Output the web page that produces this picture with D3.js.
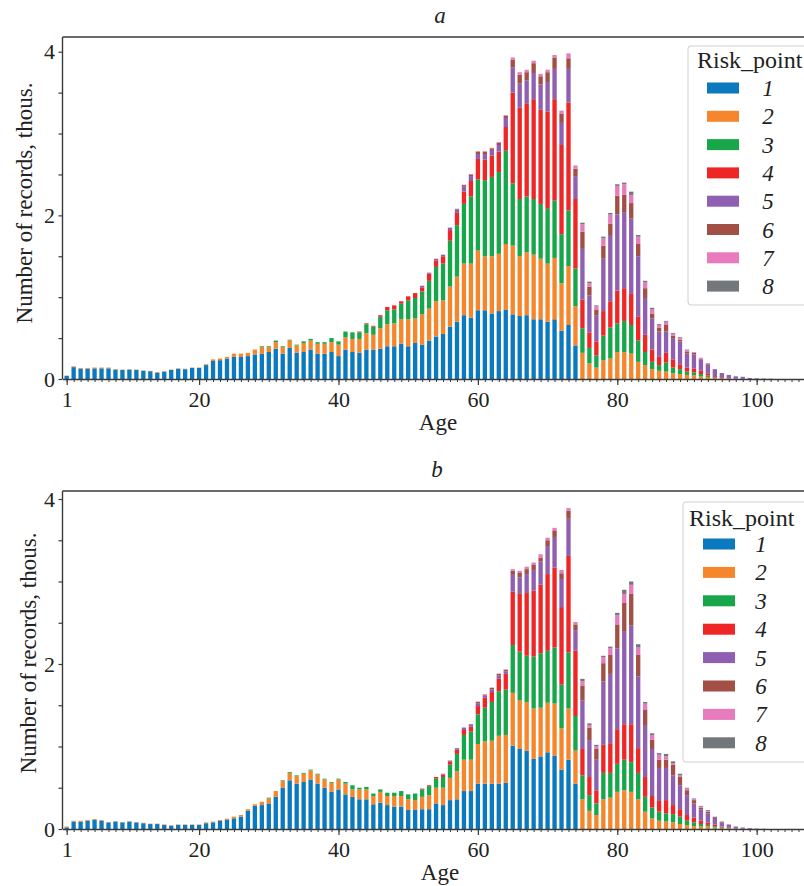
<!DOCTYPE html>
<html><head><meta charset="utf-8">
<script src="https://cdn.jsdelivr.net/npm/d3@7"></script>
<style>
body{margin:0;background:#fff}
svg{display:block}
svg text{font-family:"Liberation Serif","Times New Roman",serif !important;fill:#222}
</style>
</head><body>
<svg id="chart" width="804" height="886"></svg>
<script>
// ---------- data ----------
const ages = d3.range(1, 107);
const riskPoints = ["1","2","3","4","5","6","7","8"];
const colors = ["#0b79bf","#f5862b","#17a74a","#ee2626","#8f5fb1","#a24f45","#e87bbd","#72777c"];
const xTickValues = [1,20,40,60,80,100];
const yTickLabels = [0,2,4];

// Panel a (thousands of records per age, ages 1..106)
const a1 = [0.04,0.145,0.125,0.125,0.13,0.13,0.13,0.115,0.11,0.115,
 0.11,0.10,0.095,0.075,0.09,0.11,0.125,0.12,0.135,0.135,
 0.17,0.22,0.23,0.25,0.27,0.27,0.28,0.30,0.31,0.33,
 0.37,0.31,0.38,0.32,0.33,0.36,0.31,0.31,0.33,0.28,
 0.36,0.33,0.32,0.36,0.36,0.37,0.40,0.40,0.43,0.40,
 0.44,0.42,0.47,0.52,0.55,0.64,0.70,0.78,0.75,0.84,
 0.84,0.80,0.83,0.85,0.79,0.77,0.78,0.73,0.73,0.70,
 0.73,0.59,0.66,0.41];
const a2 = [0,0.01,0.01,0.01,0.01,0.01,0.01,0.005,0.005,0.005,
 0.005,0.005,0.005,0.01,0.005,0.005,0.005,0.005,0.005,0.005,
 0.01,0.02,0.02,0.02,0.04,0.04,0.04,0.06,0.08,0.06,
 0.08,0.08,0.09,0.09,0.11,0.11,0.12,0.12,0.12,0.14,
 0.15,0.16,0.17,0.20,0.18,0.25,0.27,0.28,0.30,0.33,
 0.30,0.37,0.39,0.43,0.41,0.49,0.55,0.63,0.66,0.73,
 0.66,0.70,0.70,0.80,0.84,0.73,0.77,0.79,0.74,0.71,
 0.75,0.58,0.72,0.48,0.32,0.19,0.14,0.23,0.25,0.33,
 0.33,0.31,0.21,0.17,0.12,0.10,0.09,0.07,0.06,0.05,
 0.045,0.03,0.025,0.01,0.008,0.005,0.003,0.002];
const a3 = [0,0,0,0,0,0,0,0,0,0,
 0,0,0,0,0,0,0,0,0,0,
 0,0,0,0,0,0,0,0,0.01,0.01,
 0.02,0.01,0.01,0.01,0.02,0.02,0.02,0.02,0.05,0.04,
 0.07,0.08,0.08,0.11,0.10,0.14,0.17,0.17,0.19,0.23,
 0.25,0.28,0.34,0.42,0.45,0.56,0.63,0.73,0.82,0.87,
 0.93,0.97,1.00,1.14,0.76,0.70,0.68,0.68,0.67,0.67,
 0.70,0.60,0.68,0.46,0.30,0.19,0.15,0.30,0.38,0.35,
 0.38,0.35,0.26,0.16,0.09,0.07,0.11,0.07,0.06,0.04,
 0.035,0.03,0.02,0.01,0.005];
const a4 = [0,0,0,0,0,0,0,0,0,0,
 0,0,0,0,0,0,0,0,0,0,
 0,0,0,0,0,0,0,0,0,0,
 0,0,0,0,0,0,0,0,0,0,
 0,0,0.01,0.01,0.01,0.02,0.04,0.05,0.03,0.05,
 0.06,0.05,0.09,0.08,0.09,0.13,0.15,0.15,0.19,0.25,
 0.25,0.26,0.25,0.29,1.11,1.12,1.14,1.22,1.15,1.19,
 1.24,1.09,1.32,0.85,0.35,0.19,0.17,0.30,0.32,0.40,
 0.40,0.38,0.29,0.21,0.15,0.10,0.12,0.10,0.06,0.05,
 0.05,0.04,0.025,0.015,0.01,0.005];
const a5 = [0,0,0,0,0,0,0,0,0,0,
 0,0,0,0,0,0,0,0,0,0,
 0,0,0,0,0,0,0,0,0,0,
 0,0,0,0,0,0,0,0,0,0,
 0,0,0,0,0,0,0,0,0,0,
 0,0.02,0.01,0.02,0.02,0.03,0.04,0.06,0.06,0.06,
 0.07,0.07,0.08,0.11,0.31,0.29,0.28,0.32,0.31,0.36,
 0.37,0.27,0.41,0.28,0.62,0.45,0.32,0.64,0.81,0.93,
 0.93,0.92,0.74,0.45,0.38,0.31,0.26,0.26,0.28,0.17,
 0.17,0.14,0.11,0.085,0.05,0.04,0.03,0.025,0.012,0.008,
 0.005,0.003];
const a6 = [0,0,0,0,0,0,0,0,0,0,
 0,0,0,0,0,0,0,0,0,0,
 0,0,0,0,0,0,0,0,0,0,
 0,0,0,0,0,0,0,0,0,0,
 0,0,0,0,0,0,0,0,0,0,
 0,0,0,0,0,0,0.01,0.02,0.02,0.03,
 0.03,0.02,0.03,0.03,0.09,0.11,0.10,0.12,0.10,0.12,
 0.14,0.11,0.13,0.09,0.21,0.11,0.07,0.16,0.14,0.23,
 0.21,0.19,0.15,0.12,0.06,0.05,0.08,0.03,0.02,0.02,
 0.02,0.01,0.01];
const a7 = [0,0,0,0,0,0,0,0,0,0,
 0,0,0,0,0,0,0,0,0,0,
 0,0,0,0,0,0,0,0,0,0,
 0,0,0,0,0,0,0,0,0,0,
 0,0,0,0,0,0,0,0,0,0,
 0,0,0,0,0,0,0,0.005,0.005,0.005,
 0.005,0.005,0.005,0.005,0.03,0.03,0.03,0.03,0.03,0.03,
 0.03,0.04,0.06,0.04,0.09,0.04,0.04,0.09,0.11,0.12,
 0.13,0.10,0.09,0.07,0.05,0.03,0.04,0.02,0.02,0.02,
 0.01,0.01];
const a8 = [0,0,0,0,0,0,0,0,0,0,
 0,0,0,0,0,0,0,0,0,0,
 0,0,0,0,0,0,0,0,0,0,
 0,0,0,0,0,0,0,0,0,0,
 0,0,0,0,0,0,0,0,0,0,
 0,0,0,0,0,0,0,0,0,0,
 0,0,0,0,0,0,0,0,0,0,
 0,0,0,0,0.02,0.02,0.01,0.02,0.02,0.02,
 0.02,0.04,0.02,0.02,0.02,0.01,0.01,0.01,0.01,0.01];

// Panel b
const b1 = [0.02,0.09,0.09,0.10,0.11,0.10,0.08,0.09,0.08,0.09,
 0.08,0.07,0.06,0.06,0.05,0.04,0.05,0.05,0.05,0.05,
 0.07,0.08,0.10,0.11,0.13,0.15,0.22,0.28,0.29,0.31,
 0.39,0.50,0.59,0.55,0.57,0.60,0.55,0.50,0.45,0.48,
 0.42,0.39,0.36,0.36,0.30,0.32,0.29,0.27,0.27,0.23,
 0.23,0.24,0.24,0.31,0.29,0.35,0.36,0.46,0.46,0.55,
 0.55,0.55,0.55,0.56,1.01,0.97,0.95,0.85,0.88,0.93,
 0.89,0.72,0.84,0.55];
const b2 = [0.01,0.01,0.01,0.01,0.01,0.01,0.005,0.005,0.005,0.005,
 0.005,0.005,0.005,0.005,0.005,0.005,0.005,0.005,0.005,0.005,
 0.01,0.01,0.01,0.015,0.02,0.02,0.02,0.02,0.04,0.06,
 0.07,0.08,0.09,0.09,0.10,0.11,0.11,0.10,0.11,0.12,
 0.13,0.09,0.12,0.12,0.10,0.13,0.11,0.13,0.13,0.13,
 0.12,0.15,0.17,0.19,0.21,0.27,0.34,0.38,0.38,0.48,
 0.51,0.52,0.58,0.58,0.64,0.59,0.59,0.61,0.59,0.60,
 0.63,0.50,0.62,0.40,0.36,0.22,0.17,0.36,0.38,0.45,
 0.47,0.45,0.36,0.21,0.13,0.10,0.09,0.08,0.06,0.045,
 0.035,0.03,0.03,0.02,0.01,0.005,0.003,0.002];
const b3 = [0,0,0,0,0,0,0,0,0,0,
 0,0,0,0,0,0,0,0,0,0,
 0,0,0,0,0,0,0,0,0,0.01,
 0,0.01,0.01,0.01,0.01,0.01,0.01,0.01,0.01,0.01,
 0.02,0.05,0.02,0.03,0.03,0.03,0.04,0.04,0.06,0.06,
 0.08,0.09,0.11,0.11,0.13,0.16,0.21,0.30,0.34,0.36,
 0.41,0.47,0.54,0.55,0.58,0.59,0.56,0.63,0.66,0.63,
 0.68,0.53,0.68,0.42,0.29,0.19,0.14,0.32,0.30,0.34,
 0.37,0.36,0.32,0.18,0.13,0.11,0.10,0.10,0.09,0.055,
 0.045,0.03,0.02,0.015,0.01,0.005,0.003,0.002];
const b4 = [0,0,0,0,0,0,0,0,0,0,
 0,0,0,0,0,0,0,0,0,0,
 0,0,0,0,0,0,0,0,0,0,
 0,0,0,0,0,0,0,0,0,0,
 0,0,0,0,0,0,0,0,0,0,
 0,0.01,0.01,0.02,0.03,0.04,0.05,0.06,0.06,0.10,
 0.12,0.12,0.15,0.19,0.65,0.70,0.76,0.80,0.83,0.93,
 0.97,0.94,1.17,0.79,0.32,0.22,0.16,0.34,0.36,0.42,
 0.43,0.46,0.30,0.24,0.14,0.13,0.16,0.11,0.09,0.07,
 0.06,0.04,0.03,0.02,0.01,0.01,0.004];
const b5 = [0,0,0,0,0,0,0,0,0,0,
 0,0,0,0,0,0,0,0,0,0,
 0,0,0,0,0,0,0,0,0,0,
 0,0,0,0,0,0,0,0,0,0,
 0,0,0,0,0,0,0,0,0,0,
 0,0,0,0,0.01,0.01,0.02,0.03,0.03,0.03,
 0.03,0.03,0.04,0.03,0.20,0.20,0.23,0.25,0.28,0.34,
 0.37,0.34,0.45,0.25,0.59,0.44,0.37,0.77,0.84,0.98,
 1.12,1.20,0.87,0.62,0.57,0.40,0.39,0.36,0.29,0.24,
 0.17,0.14,0.11,0.08,0.05,0.035,0.02,0.014,0.01,0.005,
 0.003];
const b6 = [0,0,0,0,0,0,0,0,0,0,
 0,0,0,0,0,0,0,0,0,0,
 0,0,0,0,0,0,0,0,0,0,
 0,0,0,0,0,0,0,0,0,0,
 0,0,0,0,0,0,0,0,0,0,
 0,0,0,0,0,0,0,0,0,0.02,
 0.01,0.02,0.02,0.02,0.05,0.06,0.06,0.06,0.05,0.07,
 0.08,0.07,0.10,0.07,0.18,0.16,0.13,0.22,0.23,0.29,
 0.35,0.38,0.26,0.20,0.11,0.10,0.10,0.13,0.10,0.06,
 0.04,0.02,0.02,0.01,0.01];
const b7 = [0,0,0,0,0,0,0,0,0,0,
 0,0,0,0,0,0,0,0,0,0,
 0,0,0,0,0,0,0,0,0,0,
 0,0,0,0,0,0,0,0,0,0,
 0,0,0,0,0,0,0,0,0,0,
 0,0,0,0,0,0,0,0,0,0.005,
 0.005,0.005,0.005,0.005,0.02,0.02,0.03,0.03,0.04,0.03,
 0.03,0.04,0.03,0.03,0.05,0.03,0.03,0.07,0.08,0.11,
 0.11,0.11,0.09,0.07,0.06,0.06,0.04,0.02,0.02,0.02,
 0.01,0.01,0.01,0.005];
const b8 = [0,0,0,0,0,0,0,0,0,0,
 0,0,0,0,0,0,0,0,0,0,
 0,0,0,0,0,0,0,0,0,0,
 0,0,0,0,0,0,0,0,0,0,
 0,0,0,0,0,0,0,0,0,0,
 0,0,0,0,0,0,0,0,0,0,
 0,0,0,0,0,0,0,0,0,0,
 0,0,0,0,0.03,0.02,0.02,0.02,0.02,0.03,
 0.05,0.04,0.04,0.02,0.02,0.02,0.03,0.02,0.02,0.01,
 0.01,0.01,0.01];

const panelA = [a1,a2,a3,a4,a5,a6,a7,a8];
const panelB = [b1,b2,b3,b4,b5,b6,b7,b8];

// ---------- drawing ----------
const FONT = '"Liberation Serif", "Times New Roman", serif';
const svg = d3.select("#chart");
svg.append("rect").attr("width",804).attr("height",886).attr("fill","#fff");

const x = d3.scaleLinear().domain([0.4, 108.9]).range([62.5, 818.7]);
const barW = x(0.62) - x(0);
const spineColor = "#3a3a3a";

function txt(sel) {
  return sel.style("font-family", FONT).attr("fill", "#222");
}

function drawPanel(series, o) {
  const g = svg.append("g");
  const y = d3.scaleLinear().domain([0, o.yMax]).range([o.bottom, o.top]);

  const rows = ages.map((a, i) => {
    const r = {age: a};
    riskPoints.forEach((k, j) => { r[k] = series[j][i] || 0; });
    return r;
  });
  const stacked = d3.stack().keys(riskPoints)(rows);

  const clipId = "clip" + o.name;
  svg.append("clipPath").attr("id", clipId).append("rect")
    .attr("x", 62.5).attr("y", o.top).attr("width", 760).attr("height", o.bottom - o.top);

  const bars = g.append("g").attr("clip-path", `url(#${clipId})`);
  bars.selectAll("g.layer").data(stacked).join("g")
    .attr("class","layer")
    .attr("fill", (d, i) => colors[i])
    .selectAll("rect").data(d => d.filter(s => s[1] - s[0] > 0)).join("rect")
    .attr("x", d => x(d.data.age) - barW / 2)
    .attr("width", barW)
    .attr("y", d => y(d[1]))
    .attr("height", d => y(d[0]) - y(d[1]));

  // x axis (major + minor)
  const xMinor = d3.axisBottom(x).tickValues(d3.range(1, 109)).tickSize(3).tickSizeOuter(0).tickFormat("");
  const gxm = g.append("g").attr("transform", `translate(0,${o.bottom})`).call(xMinor);
  gxm.select(".domain").remove();
  gxm.selectAll("line").attr("stroke", spineColor).attr("stroke-width", 1);

  const xMajor = d3.axisBottom(x).tickValues(xTickValues).tickSize(6).tickSizeOuter(0).tickPadding(6);
  const gx = g.append("g").attr("transform", `translate(0,${o.bottom})`).call(xMajor);
  gx.attr("font-family", null);
  gx.select(".domain").attr("stroke", spineColor).attr("stroke-width", 1.4);
  gx.selectAll("line").attr("stroke", spineColor).attr("stroke-width", 1.2);
  txt(gx.selectAll("text").attr("font-size", 22));

  // y axis
  const yAxis = d3.axisLeft(y).tickValues(d3.range(0, 4.01, 0.5)).tickSize(4).tickSizeOuter(0).tickPadding(3.5)
    .tickFormat(d => yTickLabels.includes(d) ? d3.format("d")(d) : "");
  const gy = g.append("g").attr("transform", `translate(62.5,0)`).call(yAxis);
  gy.attr("font-family", null);
  gy.select(".domain").remove();
  gy.selectAll("line").attr("stroke", spineColor).attr("stroke-width", 1.2);
  txt(gy.selectAll("text").attr("font-size", 22));

  // spines: left and top
  g.append("line").attr("x1", 62.5).attr("x2", 62.5).attr("y1", o.top).attr("y2", o.bottom)
    .attr("stroke", spineColor).attr("stroke-width", 1.4);
  g.append("line").attr("x1", 62.5).attr("x2", 820).attr("y1", o.top).attr("y2", o.top)
    .attr("stroke", spineColor).attr("stroke-width", 1.4);

  // titles
  txt(g.append("text").attr("x", o.titleX).attr("y", o.titleY).attr("text-anchor", "middle")
    .attr("font-size", 23).attr("font-style", "italic").text(o.name));
  txt(g.append("text").attr("x", o.ageX).attr("y", o.ageY).attr("text-anchor", "middle")
    .attr("font-size", 23).text("Age"));
  txt(g.append("text").attr("transform", `translate(${o.ylabX},${o.ylabY}) rotate(-90)`)
    .attr("text-anchor", "middle").attr("font-size", 23).text("Number of records, thous."));

  // legend
  const L = o.legend;
  const lg = g.append("g");
  lg.append("rect").attr("x", L.x).attr("y", L.y).attr("width", 140).attr("height", L.h)
    .attr("rx", 3).attr("fill", "#fff").attr("fill-opacity", 0.85)
    .attr("stroke", "#cfcfcf").attr("stroke-width", 1);
  txt(lg.append("text").attr("x", L.tx).attr("y", L.ty).attr("font-size", 24).text("Risk_point"));
  riskPoints.forEach((k, i) => {
    const cy = L.r0 + L.dy * i;
    lg.append("rect").attr("x", L.px).attr("y", cy - 5.5).attr("width", 32).attr("height", 11)
      .attr("fill", colors[i]);
    txt(lg.append("text").attr("x", L.lx).attr("y", cy + 8).attr("text-anchor", "middle")
      .attr("font-size", 23).attr("font-style", "italic").text(k));
  });
}

drawPanel(panelA, {
  name: "a", top: 37, bottom: 379, yMax: 4.18,
  titleX: 440, titleY: 23, ageX: 438, ageY: 430, ylabX: 32, ylabY: 203,
  legend: {x: 688, y: 46, h: 259, tx: 697, ty: 68, px: 707, r0: 88, dy: 28.3, lx: 768}
});
drawPanel(panelB, {
  name: "b", top: 491, bottom: 829, yMax: 4.097,
  titleX: 437, titleY: 477, ageX: 440, ageY: 880, ylabX: 36, ylabY: 653,
  legend: {x: 683, y: 502, h: 260, tx: 689, ty: 526, px: 703, r0: 544, dy: 28.4, lx: 761}
});
</script>
</body></html>
